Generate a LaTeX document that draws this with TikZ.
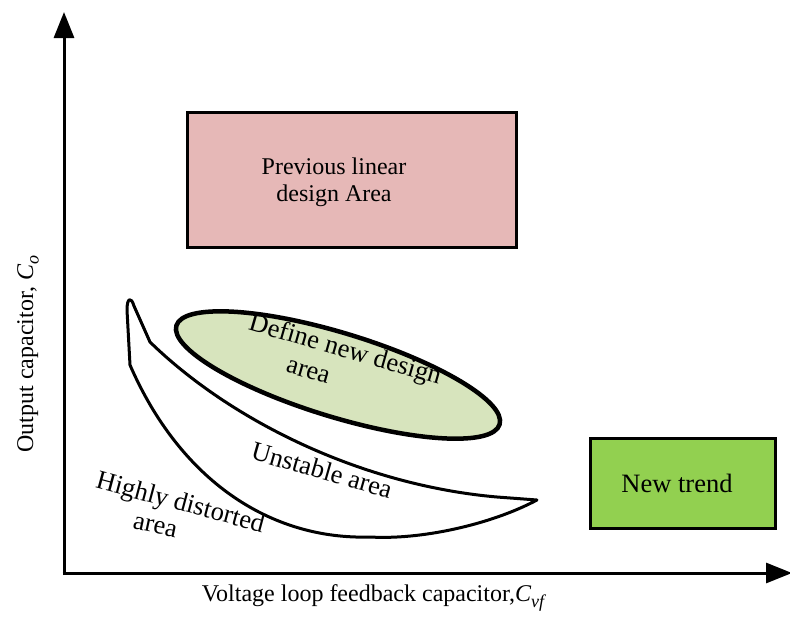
\documentclass[tikz,border=0pt]{standalone}
\usepackage{fontspec}
\setmainfont{Liberation Serif}
\usetikzlibrary{arrows.meta}
\begin{document}
\begin{tikzpicture}[x=1pt,y=-1pt,
  axis/.style={line width=3pt,-{Triangle[length=26pt,width=20pt]}},
  area/.style={draw=black,line width=3pt,inner sep=0pt,align=center},
  lbl/.style={font=\fontsize{24}{27}\selectfont,inner sep=0pt},
  biglbl/.style={font=\fontsize{26.5}{30}\selectfont,inner sep=0pt},
]
\useasboundingbox (0,0) rectangle (790,616);
\coordinate (origin) at (64,573);
\coordinate (ytip) at (64,12);
\coordinate (xtip) at (792,573);
\draw[axis] (64,575) -- (ytip);
\draw[axis] (62.5,573) -- (xtip);

\node[area,fill={rgb,255:red,230;green,184;blue,183},minimum width=329pt,minimum height=135pt] (prev) at (351.5,179.5) {};
\node[lbl,align=center] (prevtxt) at (334,182) {Previous linear\\design Area};

\node[area,fill={rgb,255:red,146;green,208;blue,80},minimum width=185pt,minimum height=90pt] (trend) at (682.5,483) {};
\node[biglbl] (trendtxt) at (677,483) {New trend};

\draw[line width=4.5pt,fill={rgb,255:red,215;green,228;blue,189},rotate around={-17:(338,375)}] (338,375) ellipse [x radius=169, y radius=42];
\node[biglbl,rotate=-16] (def1) at (345,351) {Define new design};
\node[biglbl,rotate=-16] (def2) at (308,372) {area};

\draw[line width=3pt,line join=round] (150,342) .. controls (230,420) and (360,485) .. (497,497) -- (537,500)
  .. controls (490,525) and (420,540) .. (370,537)
  .. controls (270,540) and (180,480) .. (130,365) -- (127,310)
  .. controls (127,298) and (131,296) .. (134,306) -- cycle;

\node[biglbl,rotate=-16] (unst) at (322,470) {Unstable area};
\node[biglbl,rotate=-15] (high1) at (180,504) {Highly distorted};
\node[biglbl,rotate=-12] (high2) at (155,527) {area};

\node[lbl] (xlabel) at (373,598) {Voltage loop feedback capacitor,{\itshape C}\raisebox{-0.5ex}{\fontsize{18}{20}\selectfont\itshape vf}};
\node[lbl,rotate=90] (ylabel) at (28,354) {Output capacitor, {\itshape C}\raisebox{-0.5ex}{\fontsize{18}{20}\selectfont\itshape o}};
\end{tikzpicture}
\end{document}
